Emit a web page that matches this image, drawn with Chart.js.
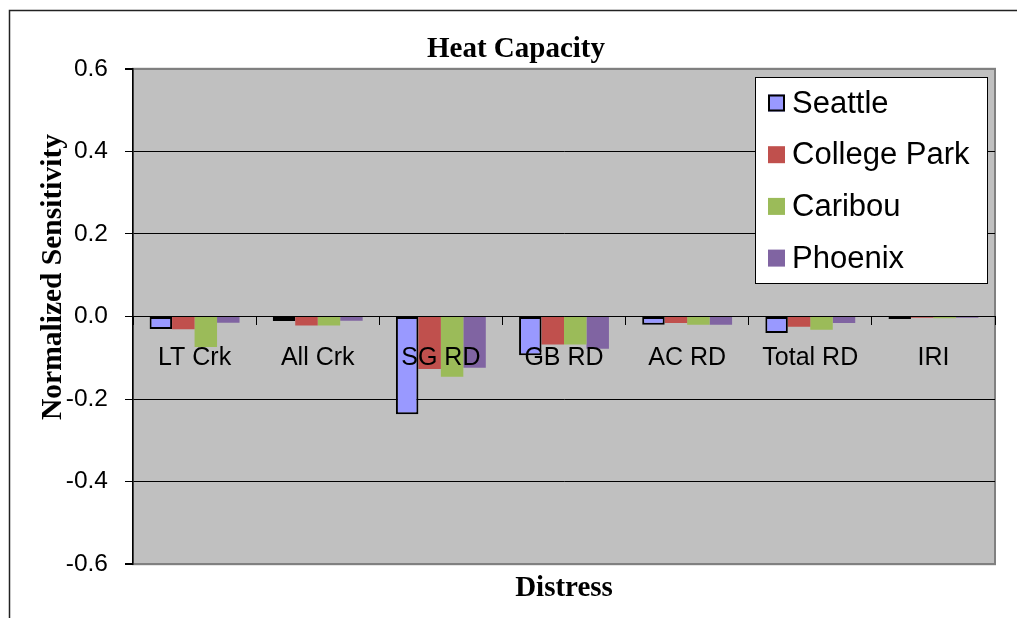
<!DOCTYPE html>
<html>
<head>
<meta charset="utf-8">
<script src="https://cdn.jsdelivr.net/npm/chart.js@4.4.1/dist/chart.umd.min.js"></script>
<style>
  html, body { margin: 0; padding: 0; background: #fff; }
  #wrap { width: 1017px; height: 618px; }
</style>
</head>
<body>
<div id="wrap"><canvas id="c" width="1017" height="618"></canvas></div>
<script>
const categories = ['LT Crk', 'All Crk', 'SG RD', 'GB RD', 'AC RD', 'Total RD', 'IRI'];
const seattle     = [-0.030, -0.011, -0.237, -0.094, -0.020, -0.040, -0.006];
const collegePark = [-0.031, -0.022, -0.127, -0.068, -0.016, -0.025, -0.003];
const caribou     = [-0.074, -0.022, -0.146, -0.068, -0.020, -0.032, -0.004];
const phoenix     = [-0.015, -0.010, -0.124, -0.078, -0.020, -0.016, -0.003];
const seriesNames = ['Seattle', 'College Park', 'Caribou', 'Phoenix'];
const chartTitle = 'Heat Capacity';
const xTitle = 'Distress';
const yTitle = 'Normalized Sensitivity';

const colors = ['#9999FF', '#C0504D', '#9BBB59', '#8064A2'];
const serif = '"Liberation Serif", "Times New Roman", serif';
const sans = '"Liberation Sans", Arial, sans-serif';

const framePlugin = {
  id: 'frame',
  beforeDraw(chart) {
    const ctx = chart.ctx;
    const a = chart.chartArea;
    ctx.save();
    ctx.fillStyle = '#fff';
    ctx.fillRect(0, 0, chart.width, chart.height);
    ctx.strokeStyle = '#222';
    ctx.lineWidth = 1.5;
    ctx.strokeRect(9.5, 10.5, 1100, 1000);
    ctx.fillStyle = '#C0C0C0';
    ctx.fillRect(a.left, a.top, a.right - a.left, a.bottom - a.top);
    ctx.strokeStyle = '#808080';
    ctx.lineWidth = 2;
    ctx.strokeRect(a.left, a.top, a.right - a.left, a.bottom - a.top);
    ctx.restore();
  },
  afterDraw(chart) {
    const ctx = chart.ctx;
    ctx.save();
    // y axis title
    ctx.translate(53, 277);
    ctx.rotate(-Math.PI / 2);
    ctx.font = 'bold 29.5px ' + serif;
    ctx.fillStyle = '#000';
    ctx.textAlign = 'center';
    ctx.textBaseline = 'middle';
    ctx.fillText(yTitle, 0, 0);
    ctx.restore();

    // legend
    ctx.save();
    const bx = 755, by = 77, bw = 232, bh = 206;
    ctx.fillStyle = '#fff';
    ctx.fillRect(bx, by, bw, bh);
    ctx.strokeStyle = '#000';
    ctx.lineWidth = 1;
    ctx.strokeRect(bx + 0.5, by + 0.5, bw, bh);
    ctx.font = '31px ' + sans;
    ctx.textBaseline = 'middle';
    ctx.textAlign = 'left';
    chart.data.datasets.forEach((ds, i) => {
      const cy = 103 + i * 51.7;
      ctx.fillStyle = ds.backgroundColor;
      ctx.fillRect(768, cy - 8.5, 17, 17);
      if (ds.borderWidth) {
        ctx.strokeStyle = '#000';
        ctx.lineWidth = 2;
        ctx.strokeRect(769, cy - 7.5, 15, 15);
      }
      ctx.fillStyle = '#000';
      ctx.fillText(ds.label, 792, cy + 1);
    });
    ctx.restore();
  }
};

const seriesValues = [seattle, collegePark, caribou, phoenix];
const datasets = seriesValues.map((vals, i) => ({
  label: seriesNames[i],
  data: vals,
  backgroundColor: colors[i],
  borderColor: '#000',
  borderWidth: i === 0 ? 2 : 0,
  borderSkipped: false,
  categoryPercentage: 0.73,
  barPercentage: 1.0
}));

new Chart(document.getElementById('c'), {
  type: 'bar',
  data: { labels: categories, datasets },
  plugins: [framePlugin],
  options: {
    responsive: false,
    animation: false,
    devicePixelRatio: 1,
    layout: { padding: { left: 37, right: 22, top: 0, bottom: 0 } },
    plugins: {
      legend: { display: false },
      tooltip: { enabled: false },
      title: {
        display: true,
        text: chartTitle,
        color: '#000',
        font: { family: serif, size: 29, weight: 'bold' },
        padding: { top: 32, bottom: 2 }
      }
    },
    scales: {
      x: {
        type: 'category',
        position: { y: 0 },
        offset: true,
        grid: {
          offset: true,
          drawOnChartArea: false,
          drawTicks: true,
          tickLength: 8,
          tickColor: '#000',
          color: '#000',
          z: 1
        },
        border: { display: true, color: '#000', width: 1, z: 1 },
        ticks: {
          z: 1,
          color: '#000',
          font: { family: sans, size: 25 },
          padding: 19,
          maxRotation: 0,
          autoSkip: false
        }
      },
      x2: {
        type: 'category',
        position: 'bottom',
        labels: categories,
        display: true,
        grid: { display: false, drawTicks: false },
        border: { display: false },
        ticks: { display: false },
        title: {
          display: true,
          text: xTitle,
          color: '#000',
          font: { family: serif, size: 29, weight: 'bold' },
          padding: { top: 7, bottom: 12 }
        }
      },
      y: {
        min: -0.6,
        max: 0.6,
        afterFit(s) { s.width = 96; },
        grid: {
          color: ctx => (Math.abs(Math.abs(ctx.tick.value) - 0.6) < 1e-9 ? '#808080' : '#000'),
          lineWidth: ctx => (Math.abs(Math.abs(ctx.tick.value) - 0.6) < 1e-9 ? 2 : 1),
          tickColor: '#000',
          tickLength: 8,
          drawTicks: true
        },
        border: { display: true, color: '#000', width: 1.5 },
        ticks: {
          stepSize: 0.2,
          color: '#000',
          padding: 17,
          font: { family: sans, size: 24.5 },
          callback: v => (Math.abs(v) < 1e-9 ? '0.0' : Number(v).toFixed(1))
        },
        title: { display: false }
      }
    }
  }
});
</script>
</body>
</html>
